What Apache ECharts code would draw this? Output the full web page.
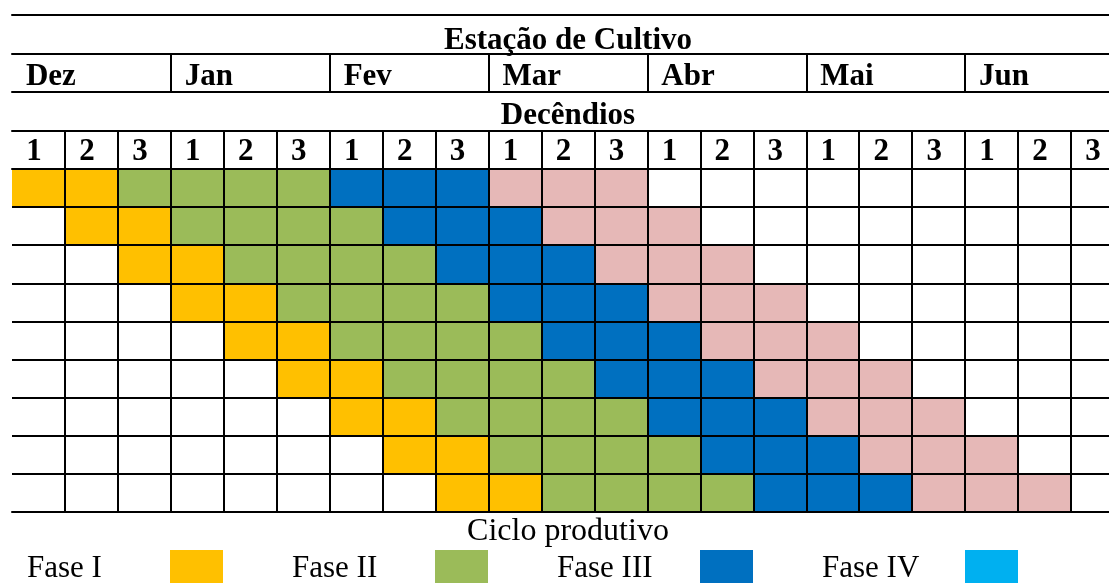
<!DOCTYPE html>
<html>
<head>
<meta charset="utf-8">
<script src="https://cdn.jsdelivr.net/npm/echarts@6/dist/echarts.min.js"></script>
<style>
html,body{margin:0;padding:0;background:#fff;}
#chart{width:1109px;height:583px;}
</style>
</head>
<body>
<div id="chart"></div>
<script>
// ---- data ----
const decendios = ['1','2','3','1','2','3','1','2','3','1','2','3','1','2','3','1','2','3','1','2','3'];
const meses = ['Dez','Jan','Fev','Mar','Abr','Mai','Jun'];
const linhas = ['1','2','3','4','5','6','7','8','9'];
// [linha, primeiro decêndio, último decêndio]
const faseI   = [[0,0,1],[1,1,2],[2,2,3],[3,3,4],[4,4,5],[5,5,6],[6,6,7],[7,7,8],[8,8,9]];
const faseII  = [[0,2,5],[1,3,6],[2,4,7],[3,5,8],[4,6,9],[5,7,10],[6,8,11],[7,9,12],[8,10,13]];
const faseIII = [[0,6,8],[1,7,9],[2,8,10],[3,9,11],[4,10,12],[5,11,13],[6,12,14],[7,13,15],[8,14,16]];
const faseIV  = [[0,9,11],[1,10,12],[2,11,13],[3,12,14],[4,13,15],[5,14,16],[6,15,17],[7,16,18],[8,17,19]];
const faseNomes = ['Fase I','Fase II','Fase III','Fase IV'];
const faseCores = ['#FFC000','#9BBB59','#0070C0','#E6B8B7'];
const legendaCores = ['#FFC000','#9BBB59','#0070C0','#00B0F0'];
const titulo = 'Estação de Cultivo';
const subtitulo = 'Decêndios';
const rodape = 'Ciclo produtivo';

// ---- build ----
const FONT = '"Liberation Serif", "Times New Roman", serif';
function cells(ranges){
  const out = [];
  ranges.forEach(r => { for (let c = r[1]; c <= r[2]; c++) out.push([c, r[0]]); });
  return out;
}
const fases = [faseI, faseII, faseIII, faseIV];
const skipFirst = (i) => i !== 0;
const lineStyle = {color:'#000', width:2};
const boldText = {fontFamily: FONT, fontWeight:'bold', fontSize:31, color:'#000'};

const series = fases.map((f, k) => ({
  type:'custom', name: faseNomes[k], xAxisIndex:0, yAxisIndex:0,
  data: cells(f),
  renderItem: function(params, api){
    const p = api.coord([api.value(0), api.value(1)]);
    const s = api.size([1,1]);
    return {type:'rect', shape:{x:p[0]-s[0]/2, y:p[1]-s[1]/2, width:s[0], height:s[1]},
            style:{fill: faseCores[k]}};
  }
}));

function plainTop(offset, name, gap){
  return {type:'category', data:decendios, position:'top', offset:offset, z:10,
    axisLine:{show:true, lineStyle:lineStyle}, axisTick:{show:false}, axisLabel:{show:false},
    splitLine:{show:false},
    name:name||'', nameLocation:'middle', nameGap:gap||0, nameTextStyle:boldText};
}

const graphic = [];
faseNomes.forEach((n, i) => {
  graphic.push({type:'text', left:27 + 265*i, top:553,
    style:{text:n, font:'31px ' + FONT, fill:'#000'}});
  graphic.push({type:'rect', left:170 + 265*i, top:550,
    shape:{width:53, height:34}, style:{fill:legendaCores[i]}});
});

const option = {
  animation:false,
  backgroundColor:'#fff',
  grid:{left:12, top:169, width:1112, height:343, containLabel:false, outerBoundsMode:'none'},
  xAxis:[
    {type:'category', data:decendios, position:'top', z:10,
     axisLine:{show:true, lineStyle:lineStyle},
     axisTick:{show:true, length:38, interval:skipFirst, lineStyle:lineStyle},
     axisLabel:{show:true, interval:0, margin:2, padding:[0,9,0,0], fontFamily:FONT, fontWeight:'bold', fontSize:31, color:'#000'},
     splitLine:{show:true, interval:skipFirst, lineStyle:lineStyle}},
    {type:'category', data:meses, position:'top', offset:77, z:10,
     axisLine:{show:true, lineStyle:lineStyle},
     axisTick:{show:true, length:38, interval:skipFirst, lineStyle:lineStyle},
     axisLabel:{show:true, interval:0, margin:0, align:'center',
       formatter: v => '{m|' + v + '}',
       rich:{m:{width:131, align:'left', fontFamily:FONT, fontWeight:'bold', fontSize:31, color:'#000'}}},
     splitLine:{show:false}},
    plainTop(38, subtitulo, 0),
    plainTop(115, titulo, -2),
    plainTop(154),
    {type:'category', data:decendios, position:'bottom', z:10,
     axisLine:{show:true, lineStyle:lineStyle}, axisTick:{show:false}, axisLabel:{show:false},
     splitLine:{show:false},
     name:rodape, nameLocation:'middle', nameGap:4,
     nameTextStyle:{fontFamily:FONT, fontSize:32, color:'#000'}}
  ],
  yAxis:{type:'category', data:linhas, inverse:true, z:10,
    axisLine:{show:false}, axisTick:{show:false}, axisLabel:{show:false},
    splitLine:{show:true, interval:0, lineStyle:lineStyle}},
  graphic: graphic,
  series: series
};
const chart = echarts.init(document.getElementById('chart'), null, {renderer:'canvas'});
chart.setOption(option);
</script>
</body>
</html>
